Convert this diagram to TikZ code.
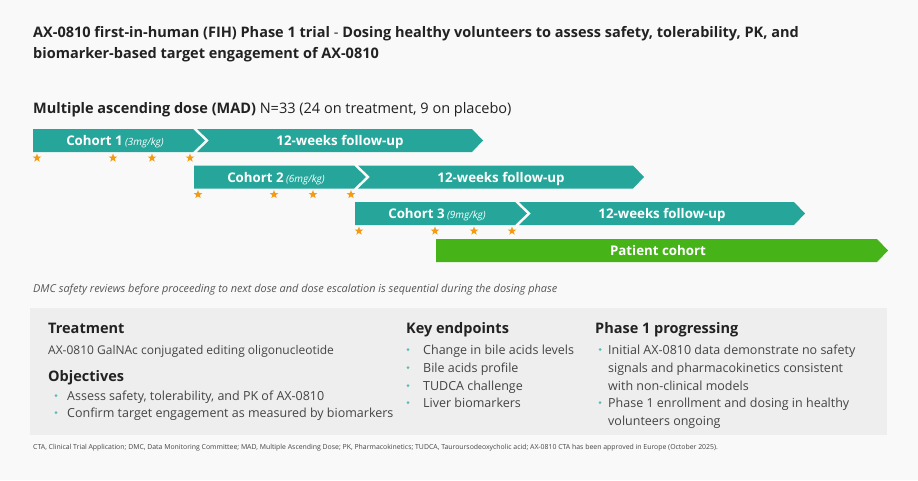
\documentclass[tikz,border=0pt]{standalone}
\usepackage{fontspec}
\setmainfont{Open Sans}
\usetikzlibrary{shapes.geometric}
\definecolor{bg}{HTML}{F9F9F9}
\definecolor{ink}{HTML}{222222}
\definecolor{body}{HTML}{444444}
\definecolor{muted}{HTML}{555555}
\definecolor{teal}{HTML}{26A69A}
\definecolor{leaf}{HTML}{46B419}
\definecolor{amber}{HTML}{F39C12}
\definecolor{panel}{HTML}{EEEEEE}
\tikzset{
  cohortbar/.style={fill=teal},
  patientbar/.style={fill=leaf},
  barlab/.style={text=white, font=\fontsize{13.3}{15}\selectfont\bfseries, inner sep=0pt, anchor=base},
  dose/.style={star, star points=5, star point ratio=2.4, fill=amber, inner sep=0pt, minimum size=9pt},
  head/.style={text=ink, font=\fontsize{14.5}{17}\selectfont\bfseries, anchor=base west, inner sep=0pt},
  txt/.style={text=body, font=\fontsize{12.5}{15}\selectfont, anchor=base west, inner sep=0pt},
  note/.style={text=muted, anchor=base west, inner sep=0pt},
  dot/.style={circle, fill=teal!75, inner sep=0pt, minimum size=3pt},
}
\begin{document}
\begin{tikzpicture}[x=1pt,y=-1pt]
  \fill[bg] (0,0) rectangle (918,480);
  \useasboundingbox (0,0) rectangle (918,480);
  % title
  \node[head] (title1) at (33,37) {AX-0810 first-in-human (FIH) Phase 1 trial \mdseries-\bfseries{} Dosing healthy volunteers to assess safety, tolerability, PK, and};
  \node[head] (title2) at (33,58) {biomarker-based target engagement of AX-0810};
  \node[head] (mad) at (33,113) {Multiple ascending dose (MAD) \mdseries N=33 (24 on treatment, 9 on placebo)};
  % dosing cohorts
  \foreach \i/\dose in {1/3,2/6,3/9} {
    \pgfmathsetmacro\xa{33+161*(\i-1)}
    \pgfmathsetmacro\yt{129+36.5*(\i-1)}
    \pgfmathsetmacro\yb{\yt+23}
    \fill[cohortbar] (\xa,\yt) -- ++(160,0) -- ++(12,11.5) -- ++(-12,11.5) -- (\xa,\yb) -- cycle;
    \fill[cohortbar] ({\xa+164},\yt) -- ++(275,0) -- ++(11,11.5) -- ++(-11,11.5) -- ({\xa+164},\yb) -- ++(12,-11.5) -- cycle;
    \node[barlab] (c\i) at ({\xa+82},{\yt+16.5}) {Cohort \i\,{\fontsize{10}{11}\selectfont\mdseries\itshape(\dose mg/kg)}};
    \node[barlab] (f\i) at ({\xa+307},{\yt+16.5}) {12-weeks follow-up};
    \foreach \s in {4,80,119,157}
      \node[dose] (s\i-\s) at ({\xa+\s},{\yb+6}) {};
  }
  % patients
  \fill[patientbar] (436,239) -- (877,239) -- (888,250.5) -- (877,262) -- (436,262) -- cycle;
  \node[barlab] (pat) at (658,255.5) {Patient cohort};
  \node[note, font=\fontsize{10.9}{12}\selectfont\itshape] (dmc) at (33,292) {DMC safety reviews before proceeding to next dose and dose escalation is sequential during the dosing phase};
  % summary panel
  \fill[panel] (30,308) rectangle (887,435);
  \node[head] (treat) at (48,333) {Treatment};
  \node[txt, font=\fontsize{12}{15}\selectfont] (drug) at (48,354) {AX-0810 GalNAc conjugated editing oligonucleotide};
  \node[head] (obj) at (48,381) {Objectives};
  \foreach \y/\t in {400/{Assess safety, tolerability, and PK of AX-0810},417/{Confirm target engagement as measured by biomarkers}} {
    \node[dot] at (56,\y-4.5) {};
    \node[txt] at (67,\y) {\t};
  }
  \node[head] (keys) at (406,333) {Key endpoints};
  \foreach \y/\t in {354/Change in bile acids levels,372/Bile acids profile,390/TUDCA challenge,407/Liver biomarkers} {
    \node[dot] at (408,\y-4.5) {};
    \node[txt] at (423,\y) {\t};
  }
  \node[head] (prog) at (595,333) {Phase 1 progressing};
  \node[dot] (b1) at (600,349.5) {};
  \node[txt] (p1) at (608,354) {Initial AX-0810 data demonstrate no safety};
  \node[txt] (p2) at (608,372) {signals and pharmacokinetics consistent};
  \node[txt] (p3) at (608,390) {with non-clinical models};
  \node[dot] (b2) at (600,402.5) {};
  \node[txt] (p4) at (608,407) {Phase 1 enrollment and dosing in healthy};
  \node[txt] (p5) at (608,425) {volunteers ongoing};
  % footnote
  \node[note, font=\fontsize{6.9}{8}\selectfont, text=body] (foot) at (33,449) {CTA, Clinical Trial Application; DMC, Data Monitoring Committee; MAD, Multiple Ascending Dose; PK, Pharmacokinetics; TUDCA, Tauroursodeoxycholic acid; AX-0810 CTA has been approved in Europe (October 2025).};
\end{tikzpicture}
\end{document}
